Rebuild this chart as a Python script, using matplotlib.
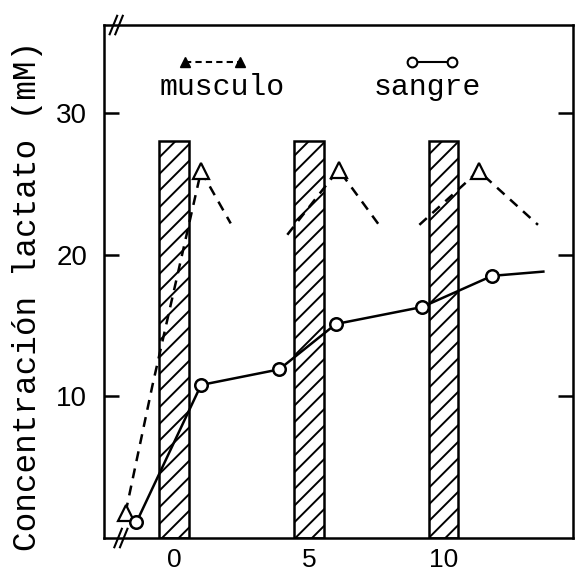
import matplotlib
matplotlib.use('Agg')
import matplotlib.pyplot as plt

# exercise periods (hatched bars), centred on these minutes
bar_x = [0, 5, 10]
bar_top = 28.0
bar_width = 1.1

# musculo (dashed, triangles), three separate segments
musc_x = [[-1.8, -0.8, 1.0, 2.1], [4.2, 6.1, 7.6], [9.1, 11.3, 13.5]]
musc_y = [[1.8, 10.8, 25.9, 22.2], [21.4, 26.0, 22.1], [22.1, 25.9, 22.1]]
musc_marks = [[0, 2], [1], [1]]

# sangre (solid, circles)
sang_x = [-1.4, 1.0, 3.9, 6.0, 9.2, 11.8, 13.7]
sang_y = [1.1, 10.8, 11.9, 15.1, 16.3, 18.5, 18.8]

xticks = [0, 5, 10]
yticks = [10, 20, 30]

mono = 'Liberation Mono'
plt.rcParams['hatch.linewidth'] = 1.4
plt.rcParams['font.family'] = ['Liberation Sans', 'DejaVu Sans']

fig = plt.figure(figsize=(5.76, 5.74), dpi=100)
ax = fig.add_axes([0.1806, 0.0627, 0.8142, 0.8937])

ax.bar(bar_x, [bar_top] * len(bar_x), width=bar_width, color='white',
       edgecolor='black', linewidth=1.8, hatch='//', zorder=2)

for xs, ys, mk in zip(musc_x, musc_y, musc_marks):
    ax.plot(xs, ys, color='black', linestyle=(0, (4, 3)), linewidth=1.8, zorder=3)
    ax.plot([xs[i] for i in mk], [ys[i] for i in mk], linestyle='none',
            marker='^', markersize=11, markerfacecolor='white',
            markeredgecolor='black', markeredgewidth=1.6, zorder=4)

ax.plot(sang_x, sang_y, color='black', linewidth=1.8, zorder=3)
ax.plot(sang_x[:-1], sang_y[:-1], linestyle='none', marker='o', markersize=9,
        markerfacecolor='white', markeredgecolor='black', markeredgewidth=1.8, zorder=4)

ax.set_xlim(-2.6, 14.8)
ax.set_ylim(0, 36.2)
ax.set_xticks(xticks)
ax.set_yticks(yticks)
ax.tick_params(axis='y', direction='in', length=11, width=1.8, labelsize=20, pad=12,
               right=True)
ax.tick_params(axis='x', direction='in', length=0, labelsize=19, pad=7)
for s in ax.spines.values():
    s.set_linewidth(1.8)

ax.set_ylabel('Concentración lactato (mM)', fontsize=23.5, family=mono)
ax.yaxis.set_label_coords(-0.13, 0.472)

# legend keys drawn by hand
ax.plot([0.173, 0.290], [0.928, 0.928], transform=ax.transAxes, color='black',
        linestyle=(0, (3, 2)), linewidth=1.5, marker='^', markersize=7,
        markerfacecolor='black', clip_on=False)
ax.plot([0.657, 0.742], [0.928, 0.928], transform=ax.transAxes, color='black',
        linewidth=1.5, marker='o', markersize=7, markerfacecolor='white',
        markeredgewidth=1.5, clip_on=False)
ax.text(0.252, 0.879, 'musculo', transform=ax.transAxes, ha='center', va='center',
        fontsize=21.5, family=mono)
ax.text(0.689, 0.879, 'sangre', transform=ax.transAxes, ha='center', va='center',
        fontsize=21.5, family=mono)

# axis break marks
for bx, by in [(0.02, 1.0), (0.03, 0.0)]:
    for dx in (0.0, 0.012):
        ax.plot([bx + dx - 0.008, bx + dx + 0.008], [by - 0.018, by + 0.018],
                transform=ax.transAxes, color='black', linewidth=1.5, clip_on=False)

fig.savefig('out.png', dpi=100)
